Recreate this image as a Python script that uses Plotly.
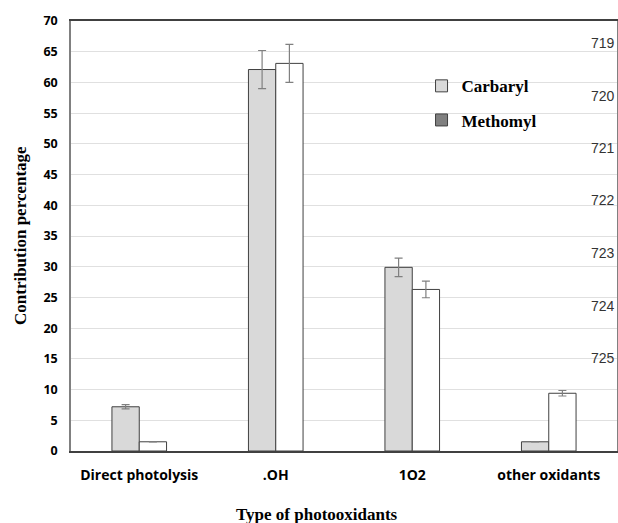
import plotly.graph_objects as go

categories = ["Direct photolysis", ".OH", "1O2", "other oxidants"]
carbaryl = [7.2, 62.1, 29.9, 1.5]
carbaryl_err = [0.35, 3.1, 1.5, 0.0]
methomyl = [1.5, 63.1, 26.3, 9.4]
methomyl_err = [0.0, 3.1, 1.35, 0.45]
line_numbers = ["719", "720", "721", "722", "723", "724", "725"]
line_number_y = [66.4, 57.8, 49.4, 40.8, 32.2, 23.6, 15.2]

serif = "Liberation Serif"
sans = "Open Sans"

fig = go.Figure()
fig.add_trace(go.Bar(
    x=categories, y=carbaryl, name="Carbaryl", offsetgroup="c", legendgroup="c",
    marker=dict(color="#d9d9d9", line=dict(color="#404040", width=1)),
    error_y=dict(type="data", array=carbaryl_err, color="#808080", thickness=1.2, width=4),
    showlegend=True,
))
fig.add_trace(go.Bar(
    x=categories, y=methomyl, name="Methomyl", offsetgroup="m", legendgroup="m",
    marker=dict(color="#ffffff", line=dict(color="#404040", width=1)),
    error_y=dict(type="data", array=methomyl_err, color="#808080", thickness=1.2, width=4),
    showlegend=False,
))
fig.add_trace(go.Bar(
    x=[categories[0]], y=[None], name="Methomyl", offsetgroup="m", legendgroup="m",
    marker=dict(color="#808080", line=dict(color="#404040", width=1)),
    showlegend=True,
))

for t, yv in zip(line_numbers, line_number_y):
    fig.add_annotation(x=1.0, xref="paper", xanchor="right", y=yv, yref="y",
                       text=t, showarrow=False,
                       font=dict(family="Liberation Sans", size=14, color="#333333"))

# axis titles as annotations (positioned like the reference)
fig.add_annotation(x=(317 - 71) / 546, xref="paper", y=-63 / 430, yref="paper",
                   text="Type of photooxidants", showarrow=False,
                   xanchor="center", yanchor="middle",
                   font=dict(family=serif, size=17, color="black", weight="bold"))
fig.add_annotation(x=(20 - 71) / 546, xref="paper", y=0.5, yref="paper",
                   text="Contribution percentage", showarrow=False, textangle=-90,
                   xanchor="center", yanchor="middle",
                   font=dict(family=serif, size=17, color="black", weight="bold"))

fig.update_layout(
    width=618, height=523,
    margin=dict(l=71, r=1, t=21, b=72, autoexpand=False),
    plot_bgcolor="white", paper_bgcolor="white",
    barmode="group", bargap=0.6, bargroupgap=0.0,
    legend=dict(x=0.642, y=0.89, xanchor="left", yanchor="top",
                bgcolor="rgba(0,0,0,0)", tracegroupgap=9,
                font=dict(family=serif, size=17, color="black", weight="bold"),
                itemwidth=30),
    xaxis=dict(
        showline=True, linecolor="#404040", linewidth=1.5, mirror=True,
        automargin=False,
        tickfont=dict(family=sans, size=14, color="black", weight="bold"),
        ticks="", ticklabelstandoff=10,
    ),
    yaxis=dict(
        range=[0, 70], dtick=5, showgrid=True, gridcolor="#e0e0e0", gridwidth=1,
        showline=True, linecolor="#808080", linewidth=1.5, mirror=True,
        ticks="", zeroline=False, automargin=False, ticklabelstandoff=9,
        tickfont=dict(family=sans, size=12.5, color="black", weight="bold"),
    ),
)

fig.write_html("out.html", config={"displayModeBar": False},
               post_script="document.body.style.margin='0px';document.body.style.overflow='hidden';")
